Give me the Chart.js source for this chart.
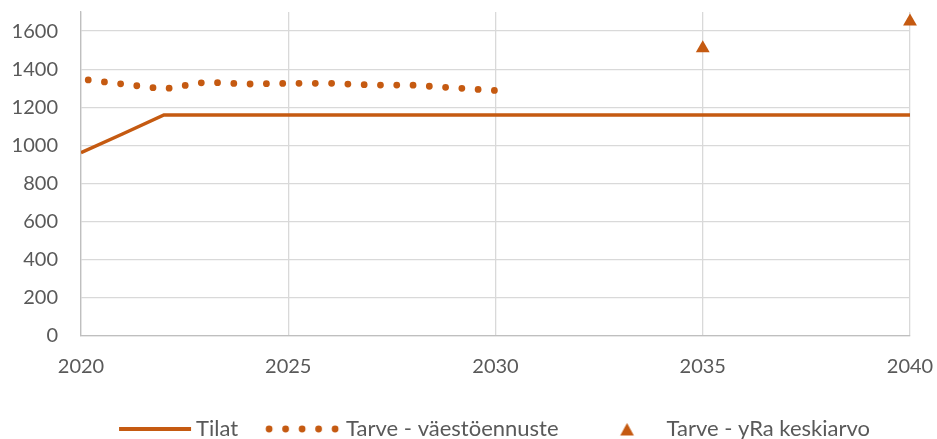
<!DOCTYPE html>
<html><head><meta charset="utf-8">
<script src="https://cdn.jsdelivr.net/npm/chart.js@4.4.1/dist/chart.umd.min.js"></script>
<style>html,body{margin:0;padding:0;background:#fff}#wrap{width:937px;height:439px;position:relative}</style>
</head><body><div id="wrap"><canvas id="c"></canvas></div>
<script>
const tilatYears = [2020,2021,2022,2023,2024,2025,2026,2027,2028,2029,2030,2031,2032,2033,2034,2035,2036,2037,2038,2039,2040];
const tilatValues = [962,1060,1160,1160,1160,1160,1160,1160,1160,1160,1160,1160,1160,1160,1160,1160,1160,1160,1160,1160,1160];
const ennusteYears = [2020,2021,2022,2023,2024,2025,2026,2027,2028,2029,2030];
const ennusteValues = [1348,1322,1296,1332,1322,1326,1326,1317,1316,1302,1288];
const yraYears = [2035,2040];
const yraValues = [1510,1650];
const xTicks = [2020,2025,2030,2035,2040];
const yTicks = [0,200,400,600,800,1000,1200,1400,1600];
const seriesNames = ['Tilat','Tarve - väestöennuste','Tarve - yRa keskiarvo'];

const ORANGE = '#c55a11';
const TEXT = '#595959';
const FS = 20, LFS = 22, W = 80, P = 17;
Chart.defaults.font.family = 'Lato';
Chart.defaults.font.size = FS;
Chart.defaults.color = TEXT;

function mk(draw){
  const c = document.createElement('canvas');
  c.width = 2*W; c.height = 22;
  const g = c.getContext('2d');
  draw(g, W/2, 11);
  return c;
}
const legLine = mk((g,o,cy)=>{g.strokeStyle=ORANGE;g.lineWidth=4;g.beginPath();g.moveTo(o+14,cy);g.lineTo(o+86,cy);g.stroke();});
const legDots = mk((g,o,cy)=>{g.fillStyle=ORANGE;for(let i=0;i<5;i++){g.beginPath();g.arc(o+14+i*16.5,cy,3.4,0,2*Math.PI);g.fill();}});
const legTri = mk((g,o,cy)=>{g.fillStyle=ORANGE;const x=o+51.5;g.beginPath();g.moveTo(x,cy-6);g.lineTo(x+6.8,cy+6.5);g.lineTo(x-6.8,cy+6.5);g.closePath();g.fill();});
const legImgs = [legLine, legDots, legTri];

const legendShift = {id: 'legendShift', afterLayout(chart){ if (chart.legend) { chart.legend.left -= 16; } }};

new Chart(document.getElementById('c'), {
  type: 'line',
  plugins: [legendShift],
  data: {
    datasets: [
      {label: seriesNames[0], data: tilatYears.map((x,i)=>({x, y: tilatValues[i]})), borderColor: ORANGE, borderWidth: 3.5, pointRadius: 0, tension: 0, borderCapStyle: 'butt'},
      {label: seriesNames[1], data: ennusteYears.map((x,i)=>({x, y: ennusteValues[i]})), borderColor: ORANGE, borderWidth: 6.8, pointRadius: 0, tension: 0, borderDash: [0, 16.3], borderDashOffset: 9, borderCapStyle: 'round'},
      {label: seriesNames[2], data: yraYears.map((x,i)=>({x, y: yraValues[i]})), showLine: false, pointStyle: 'triangle', pointRadius: 8, pointBackgroundColor: ORANGE, pointBorderColor: ORANGE, pointBorderWidth: 0, clip: false}
    ]
  },
  options: {
    responsive: true, maintainAspectRatio: false, animation: false,
    layout: {padding: {top: 12, right: 27, left: 0, bottom: -11}},
    plugins: {
      tooltip: {enabled: false},
      legend: {
        position: 'bottom', fullSize: false,
        labels: {
          usePointStyle: true, pointStyleWidth: W, padding: P, color: TEXT,
          font: {size: LFS, family: 'Lato'},
          generateLabels: () => seriesNames.map((t,i)=>({text: t, pointStyle: legImgs[i], fontColor: TEXT, hidden: false, datasetIndex: i, lineWidth: 0, strokeStyle: 'rgba(0,0,0,0)', fillStyle: 'rgba(0,0,0,0)'}))
        }
      }
    },
    scales: {
      x: {
        type: 'linear', min: 2020, max: 2040,
        afterBuildTicks: a => { a.ticks = xTicks.map(v=>({value:v})); },
        afterFit: a => { a.height = 65; a.paddingLeft = 0; a.paddingRight = 0; },
        ticks: {padding: 19, maxRotation: 0, callback: v => String(v), color: TEXT},
        grid: {color: '#d9d9d9', lineWidth: 1.3, drawTicks: false},
        border: {color: '#bfbfbf', width: 1.3}
      },
      y: {
        min: 0, max: 1700,
        afterBuildTicks: a => { a.ticks = yTicks.map(v=>({value:v})); },
        afterFit: a => { a.width = 81; a.paddingTop = 0; a.paddingBottom = 0; },
        ticks: {padding: 23, color: TEXT, callback: v => String(v)},
        grid: {color: '#d9d9d9', lineWidth: 1.3, drawTicks: false},
        border: {color: '#bfbfbf', width: 1.3}
      }
    }
  }
});
</script></body></html>
